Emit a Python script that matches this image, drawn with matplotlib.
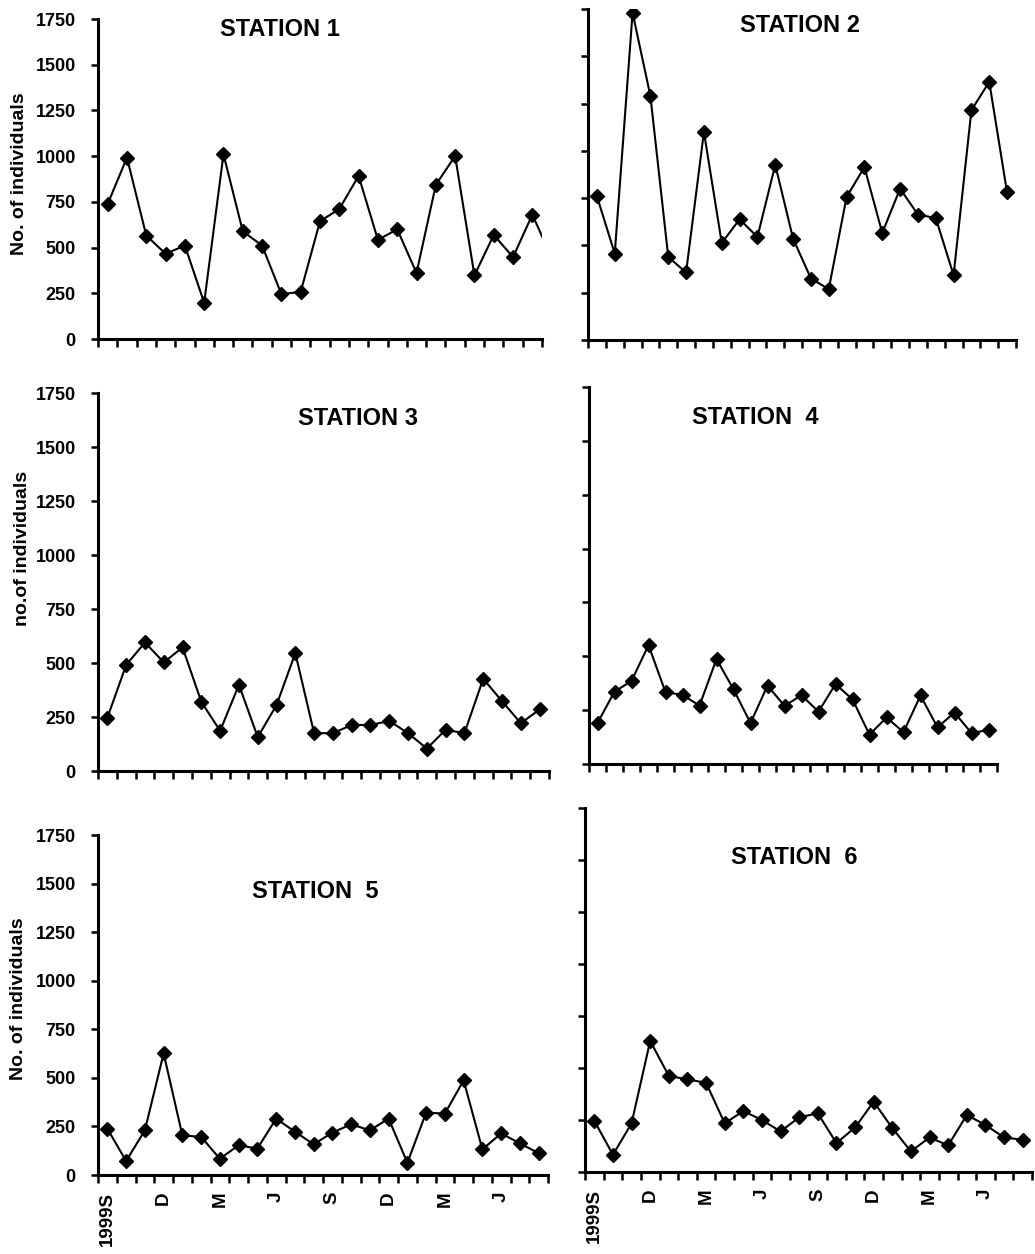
import matplotlib
matplotlib.use("Agg")
import matplotlib.pyplot as plt
import numpy as np

plt.rcParams['font.family'] = ['Liberation Sans', 'DejaVu Sans']
plt.rcParams['font.weight'] = 'bold'

# Monthly counts, Sep 1999 onwards
station1 = [738, 992, 566, 466, 511, 198, 1010, 589, 511, 245, 258, 644,
            711, 892, 542, 600, 361, 843, 1001, 348, 569, 448, 680, 445]
station2 = [760, 457, 1730, 1290, 439, 357, 1100, 513, 638, 545, 926, 536,
            325, 269, 756, 914, 566, 800, 663, 645, 343, 1215, 1365, 780]
station3 = [247, 491, 595, 503, 572, 320, 186, 399, 157, 305, 546, 175,
            175, 213, 213, 232, 175, 104, 191, 175, 427, 323, 221, 285]
station4 = [190, 336, 385, 552, 333, 321, 271, 487, 347, 190, 364, 270,
            319, 243, 371, 300, 136, 216, 148, 318, 170, 239, 143, 159]
station5 = [238, 72, 230, 626, 204, 196, 84, 153, 136, 290, 223, 158,
            218, 261, 230, 290, 63, 321, 316, 487, 132, 214, 163, 112]
station6 = [246, 83, 234, 630, 462, 445, 429, 234, 293, 250, 195, 263,
            282, 139, 214, 338, 211, 99, 166, 128, 274, 226, 166, 155]

month_labels = ["1999S", "D", "M", "J", "S", "D", "M", "J"]
y_ticks = [0, 250, 500, 750, 1000, 1250, 1500, 1750]

W, H = 1035, 1254
fig = plt.figure(figsize=(W / 100, H / 100), dpi=100)


def px_rect(left, right, top, bottom):
    return [left / W, 1 - bottom / H, (right - left) / W, (bottom - top) / H]


panels = [
    # values, visible months, axes box, title, title centre, y label, y label centre
    (station1, 23, (98, 542, 19, 339), "STATION 1", (280, 29), "No. of individuals", (20, 174)),
    (station2, 24, (588, 1016, 9, 340), "STATION 2", (800, 25), None, None),
    (station3, 24, (98, 549, 393, 771), "STATION 3", (358, 419), "no.of individuals", (23, 548)),
    (station4, 24, (589, 997, 387, 764), "STATION  4", (755, 417), None, None),
    (station5, 24, (98, 548, 835, 1175), "STATION  5", (315, 891), "No. of individuals", (19, 999)),
    (station6, 24, (585, 1032, 808, 1172), "STATION  6", (794, 857), None, None),
]

for i, (vals, n_vis, box, title, tpos, ylab, ypos) in enumerate(panels):
    ax = fig.add_axes(px_rect(*box))
    x = np.arange(len(vals))
    ax.plot(x, vals, color='black', lw=1.5, marker='D', markersize=7.5,
            markerfacecolor='black', markeredgecolor='black')
    ax.set_xlim(-0.5, n_vis - 0.5)
    ax.set_ylim(0, 1750)
    for side in ('top', 'right'):
        ax.spines[side].set_visible(False)
    for side in ('left', 'bottom'):
        ax.spines[side].set_linewidth(2.2)

    ax.set_yticks(y_ticks)
    left_col = (i % 2 == 0)
    if left_col:
        ax.set_yticklabels([str(t) for t in y_ticks], fontsize=13, fontweight='bold')
    else:
        ax.set_yticklabels([])
    ax.tick_params(axis='y', direction='out', length=5, width=1.8, pad=11)

    # category boundaries carry the tick marks; labels sit at category centres
    ax.set_xticks(np.arange(-0.5, n_vis, 1.0))
    ax.set_xticklabels([])
    ax.tick_params(axis='x', which='major', direction='out', length=6, width=1.8)
    if i >= 4:
        ax.set_xticks(np.arange(0, 24, 3), minor=True)
        ax.set_xticklabels(month_labels, minor=True, rotation=90, fontsize=13.5,
                           fontweight='bold', va='top')
        ax.tick_params(axis='x', which='minor', length=0, pad=12)

    fig.text(tpos[0] / W, 1 - tpos[1] / H, title, ha='center', va='center',
             fontsize=17, fontweight='bold')
    if ylab:
        fig.text(ypos[0] / W, 1 - ypos[1] / H, ylab, rotation=90, ha='center',
                 va='center', fontsize=14, fontweight='bold')

fig.savefig("out.png", dpi=100)
